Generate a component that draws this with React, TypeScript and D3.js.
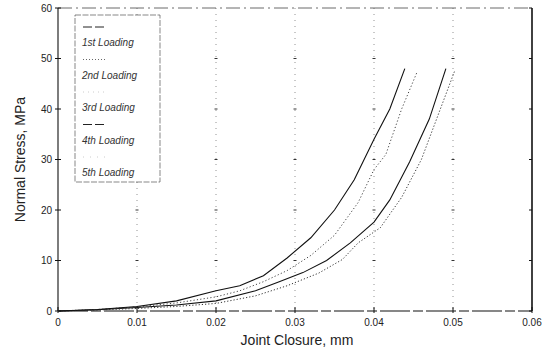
import React from "react";
import * as d3 from "d3";

const xTicks = [0, 0.01, 0.02, 0.03, 0.04, 0.05, 0.06];
const xTickLabels = ["0", "0.01", "0.02", "0.03", "0.04", "0.05", "0.06"];
const yTicks = [0, 10, 20, 30, 40, 50, 60];
const yTickLabels = ["0", "10", "20", "30", "40", "50", "60"];

const seriesNames = ["1st Loading", "2nd Loading", "3rd Loading", "4th Loading", "5th Loading"];

// 1st loading (right solid)
const load1X = [0, 0.005, 0.01, 0.015, 0.02, 0.025, 0.028, 0.031, 0.034, 0.037, 0.04, 0.042, 0.0445, 0.047, 0.0491];
const load1Y = [0, 0.25, 0.7, 1.2, 2.0, 4.0, 5.8, 7.6, 10.0, 13.5, 17.6, 22.0, 29.5, 38.0, 48.0];
// 2nd loading (right dotted)
const load2X = [0, 0.005, 0.01, 0.015, 0.02, 0.025, 0.029, 0.033, 0.036, 0.038, 0.0408, 0.0435, 0.046, 0.0484, 0.0502];
const load2Y = [0, 0.2, 0.5, 0.9, 1.5, 3.0, 5.0, 7.5, 10.2, 13.5, 16.5, 22.5, 30.0, 40.0, 47.5];
// 3rd loading (left dotted)
const load3X = [0, 0.005, 0.01, 0.015, 0.02, 0.023, 0.026, 0.029, 0.032, 0.035, 0.038, 0.04, 0.0415, 0.0435, 0.0455];
const load3Y = [0, 0.3, 0.8, 1.6, 2.8, 4.0, 5.8, 8.0, 11.0, 15.0, 21.5, 28.0, 31.0, 40.0, 47.5];
// 4th loading (left solid)
const load4X = [0, 0.005, 0.01, 0.015, 0.02, 0.023, 0.026, 0.029, 0.032, 0.035, 0.0375, 0.04, 0.042, 0.0439];
const load4Y = [0, 0.3, 0.9, 2.0, 4.0, 5.0, 7.0, 10.5, 14.5, 20.0, 26.0, 34.0, 40.0, 48.0];

const W = 553;
const H = 352;
const left = 58;
const right = 532;
const top = 8;
const bottom = 311;

export default function App() {
  const x = d3.scaleLinear().domain([0, 0.06]).range([left, right]);
  const y = d3.scaleLinear().domain([0, 60]).range([bottom, top]);
  const line = d3
    .line<[number, number]>()
    .x((d) => x(d[0]))
    .y((d) => y(d[1]))
    .curve(d3.curveLinear);

  const mk = (xs: number[], ys: number[]) => xs.map((v, i) => [v, ys[i]] as [number, number]);

  const curves = [
    { d: mk(load1X, load1Y), dash: undefined, color: "#111", w: 1.1 },
    { d: mk(load2X, load2Y), dash: "1.2,2", color: "#333", w: 1 },
    { d: mk(load3X, load3Y), dash: "1.2,2.2", color: "#444", w: 1 },
    { d: mk(load4X, load4Y), dash: undefined, color: "#111", w: 1.1 },
  ];

  const legendSamples = [
    { dash: "9,3", color: "#222", w: 1 },
    { dash: "1,2", color: "#666", w: 1 },
    { dash: "1,4", color: "#ccc", w: 1 },
    { dash: "9,3", color: "#222", w: 1 },
    { dash: "1,6", color: "#ccc", w: 1 },
  ];

  const font = "Liberation Sans, Arial, sans-serif";

  return (
    <svg
      width={W}
      height={H}
      style={{ position: "absolute", left: 0, top: 0, background: "#fff" }}
      fontFamily={font}
    >
      <rect x={0} y={0} width={W} height={H} fill="#fff" />
      {/* vertical grid lines */}
      {xTicks.slice(1, -1).map((t) => (
        <g key={"g" + t}>
          <line x1={x(t)} x2={x(t)} y1={y(60)} y2={y(0)} stroke="#777" strokeWidth={0.8} strokeDasharray="1,5" />
          {yTicks.slice(1, -1).map((v) => (
            <line key={v} x1={x(t) - 1.5} x2={x(t) + 1.5} y1={y(v)} y2={y(v)} stroke="#333" strokeWidth={1} />
          ))}
        </g>
      ))}
      {/* top border dashed */}
      <line x1={left} x2={right} y1={y(60)} y2={y(60)} stroke="#444" strokeWidth={0.8} strokeDasharray="14,4,2,4" />
      {/* right border */}
      <line x1={right} x2={right} y1={y(60)} y2={y(0)} stroke="#111" strokeWidth={1.6} />
      {/* left axis */}
      <line x1={left} x2={left} y1={y(60)} y2={y(0)} stroke="#111" strokeWidth={1.1} />
      {/* bottom axis */}
      <line x1={left} x2={right} y1={y(0)} y2={y(0)} stroke="#111" strokeWidth={1.1} strokeDasharray="30,3,10,3" />

      {/* y ticks */}
      {yTicks.map((t, i) => (
        <g key={"y" + t}>
          <line x1={left - 3} x2={left + 3} y1={y(t)} y2={y(t)} stroke="#111" strokeWidth={1} />
          <line x1={right - 3} x2={right} y1={y(t)} y2={y(t)} stroke="#111" strokeWidth={1} />
          <text x={left - 6} y={y(t) + 3.5} fontSize={10} textAnchor="end" fill="#222">
            {yTickLabels[i]}
          </text>
        </g>
      ))}
      {/* x ticks */}
      {xTicks.map((t, i) => (
        <g key={"x" + t}>
          <line x1={x(t)} x2={x(t)} y1={y(0) - 4} y2={y(0) + 2} stroke="#111" strokeWidth={1} />
          <text x={x(t)} y={y(0) + 15} fontSize={10} textAnchor="middle" fill="#222">
            {xTickLabels[i]}
          </text>
        </g>
      ))}

      {/* curves */}
      {curves.map((c, i) => (
        <path
          key={"c" + i}
          d={line(c.d) || ""}
          fill="none"
          stroke={c.color}
          strokeWidth={c.w}
          strokeDasharray={c.dash}
        />
      ))}

      {/* legend */}
      <rect x={75} y={15} width={85} height={167} fill="#fff" stroke="#555" strokeWidth={0.7} strokeDasharray="6,1.5" />
      {seriesNames.map((n, i) => {
        const base = 27 + i * 32.5;
        const s = legendSamples[i];
        return (
          <g key={"l" + i}>
            <line x1={83} x2={107} y1={base} y2={base} stroke={s.color} strokeWidth={s.w} strokeDasharray={s.dash} />
            <text x={82} y={base + 19} fontSize={10} fontStyle="italic" fill="#333">
              {n}
            </text>
          </g>
        );
      })}

      {/* axis titles */}
      <text x={297} y={345} fontSize={14} textAnchor="middle" fill="#222">
        Joint Closure, mm
      </text>
      <text
        transform={`translate(25, ${(top + bottom) / 2}) rotate(-90)`}
        fontSize={14}
        textAnchor="middle"
        fill="#222"
      >
        Normal Stress, MPa
      </text>
    </svg>
  );
}
